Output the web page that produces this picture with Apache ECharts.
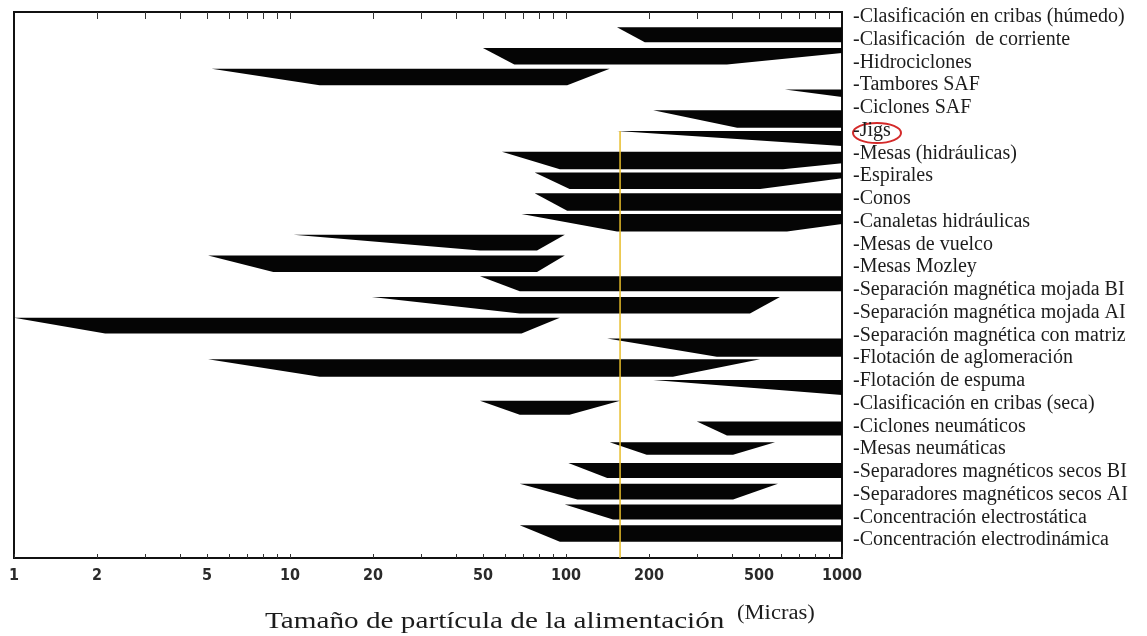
<!DOCTYPE html>
<html>
<head>
<meta charset="utf-8">
<title>Tamaño de partícula de la alimentación</title>
<script src="https://cdn.jsdelivr.net/npm/echarts@6/dist/echarts.min.js"></script>
<style>
html,body{margin:0;padding:0;background:#fff;}
#main{width:1147px;height:636px;}
</style>
</head>
<body>
<div id="main"></div>
<script>
//etiquetas de la derecha
var metodos = [
    '-Clasificación en cribas (húmedo)',
    '-Clasificación  de corriente',
    '-Hidrociclones',
    '-Tambores SAF',
    '-Ciclones SAF',
    '-Jigs',
    '-Mesas (hidráulicas)',
    '-Espirales',
    '-Conos',
    '-Canaletas hidráulicas',
    '-Mesas de vuelco',
    '-Mesas Mozley',
    '-Separación magnética mojada BI',
    '-Separación magnética mojada AI',
    '-Separación magnética con matriz',
    '-Flotación de aglomeración',
    '-Flotación de espuma',
    '-Clasificación en cribas (seca)',
    '-Ciclones neumáticos',
    '-Mesas neumáticas',
    '-Separadores magnéticos secos BI',
    '-Separadores magnéticos secos AI',
    '-Concentración electrostática',
    '-Concentración electrodinámica'
];
//barras (micras): punta izquierda, inicio grosor completo, fin grosor completo, punta derecha
var puntaIzq    = [153, 50, 5.2, 621, 207, 153, 58.6, 77, 77, 69, 10.3, 5.05, 48.8, 19.8, 1, 141, 5.05, 207, 48.8, 298, 144, 102, 68, 99, 68];
var inicioLleno = [193, 65, 12.8, 1000, 417, 1000, 95, 103, 101, 153, 48.8, 8.7, 68, 68, 2.14, 352, 12.8, 1000, 68, 383, 196, 141, 110, 148, 95];
var finLleno    = [1000, 383, 101, 1000, 1000, 1000, 611, 505, 1000, 632, 78.5, 78.5, 1000, 464, 69, 1000, 244, 1000, 103, 1000, 403, 1000, 403, 1000, 1000];
var puntaDer    = [1000, 1000, 144, 1000, 1000, 1000, 1000, 1000, 1000, 1000, 99, 99, 1000, 596, 95, 1000, 505, 1000, 157, 1000, 572, 1000, 586, 1000, 1000];
//grosor relativo y grosor en la punta derecha
var grosor      = [0.9, 1, 1, 0.45, 1.05, 0.9, 1.05, 1, 1.05, 1.05, 0.95, 1, 0.9, 1, 0.95, 1.1, 1.05, 0.9, 0.85, 0.85, 0.75, 0.9, 0.95, 0.9, 1];
var grosorFinal = [0.9, 0.3, 0, 0.45, 1.05, 0.9, 0.7, 0.35, 1.05, 0.6, 0, 0, 0.9, 0, 0, 1.1, 0, 0.9, 0, 0.85, 0, 0.9, 0, 0.9, 1];
//eje x
var marcasEje = [1, 2, 5, 10, 20, 50, 100, 200, 500, 1000];
var marcasMenores = [1, 2, 3, 4, 5, 6, 7, 8, 9, 10, 20, 30, 40, 50, 60, 70, 80, 90, 100, 200, 300, 400, 500, 600, 700, 800, 900, 1000];
var marcasSuperiores = [2, 3, 4, 5, 6, 7, 8, 9, 10, 20, 30, 40, 50, 60, 70, 80, 90, 100, 200, 300, 400, 500, 600, 700, 800, 900];
//línea amarilla (Jigs)
var corteJigs = 157;
var filaJigs = 5;

var barras = [];
for (var i = 0; i < puntaIzq.length; i++) {
    barras.push([i, puntaIzq[i], inicioLleno[i], finLleno[i], puntaDer[i], grosor[i], grosorFinal[i]]);
}

function dibujarBarra(params, api) {
    var i = api.value(0);
    var yc = api.coord([1, i])[1];
    var paso = api.coord([1, i + 1])[1] - yc;
    var alto = paso * 0.8;
    var arriba = yc - alto / 2;
    var abajo = arriba + api.value(5) * alto;
    var fin = arriba + api.value(6) * alto;
    function px(v) { return api.coord([v, i])[0]; }
    return {
        type: 'polygon',
        shape: {
            points: [
                [px(api.value(1)), arriba],
                [px(api.value(4)), arriba],
                [px(api.value(4)), fin],
                [px(api.value(3)), abajo],
                [px(api.value(2)), abajo]
            ]
        },
        style: { fill: '#050505' }
    };
}

var myChart = echarts.init(document.getElementById('main'));
var option = {
    animation: false,
    backgroundColor: '#fff',
    grid: [
        { left: 14, right: 305, top: 12, bottom: 78, show: true, borderColor: '#111', borderWidth: 2 },
        { left: 14, right: 305, top: 5.6, bottom: 84.6 }
    ],
    xAxis: [
        {
            type: 'log', gridIndex: 0, position: 'bottom', min: 1, max: 1000,
            axisLine: { show: false, onZero: false },
            axisTick: { inside: true, length: 4, lineStyle: { color: '#333' }, customValues: marcasMenores },
            axisLabel: {
                customValues: marcasEje, margin: 10,
                formatter: function (v) { return String(v); },
                fontFamily: 'Liberation Sans Narrow, DejaVu Sans Condensed, sans-serif',
                fontWeight: 'bold', fontSize: 16, color: '#2a2a2a'
            },
            splitLine: { show: false }
        },
        {
            type: 'log', gridIndex: 0, position: 'top', min: 1, max: 1000,
            axisLine: { show: false, onZero: false },
            axisTick: { inside: true, length: 7, lineStyle: { color: '#333' }, customValues: marcasSuperiores },
            axisLabel: { show: false },
            splitLine: { show: false }
        },
        { type: 'value', gridIndex: 1, show: false, min: 0, max: 1 }
    ],
    yAxis: [
        { type: 'value', gridIndex: 0, inverse: true, min: -1.133, max: 25.18, show: false },
        {
            type: 'category', gridIndex: 1, inverse: true, position: 'right', data: metodos,
            axisLine: { show: false }, axisTick: { show: false }, splitLine: { show: false },
            axisLabel: { interval: 0, margin: 11, fontFamily: 'Liberation Serif, serif', fontSize: 20, color: '#1c1c1c' }
        }
    ],
    series: [
        {
            type: 'custom', xAxisIndex: 0, yAxisIndex: 0,
            renderItem: dibujarBarra,
            encode: { x: [1, 2, 3, 4], y: 0 },
            data: barras
        },
        {
            type: 'line', xAxisIndex: 0, yAxisIndex: 0, symbol: 'none', silent: true, z: 5,
            lineStyle: { color: '#e8bd2a', width: 1.5 },
            data: [[corteJigs, filaJigs - 0.4], [corteJigs, 25.18]]
        },
        { type: 'scatter', xAxisIndex: 2, yAxisIndex: 1, data: [] }
    ],
    graphic: [
        {
            type: 'text', x: 265, y: 610, scaleX: 1.27,
            style: { text: 'Tamaño de partícula de la alimentación', fontFamily: 'Liberation Serif, serif', fontSize: 23, fill: '#1c1c1c' }
        },
        {
            type: 'text', x: 737, y: 604, scaleX: 1.13,
            style: { text: '(Micras)', fontFamily: 'Liberation Serif, serif', fontSize: 20, fill: '#1c1c1c' }
        },
        {
            type: 'ellipse', shape: { cx: 877, cy: 133, rx: 24, ry: 10 },
            style: { fill: 'none', stroke: '#d42a2a', lineWidth: 2 }
        }
    ]
};
myChart.setOption(option);
</script>
</body>
</html>
